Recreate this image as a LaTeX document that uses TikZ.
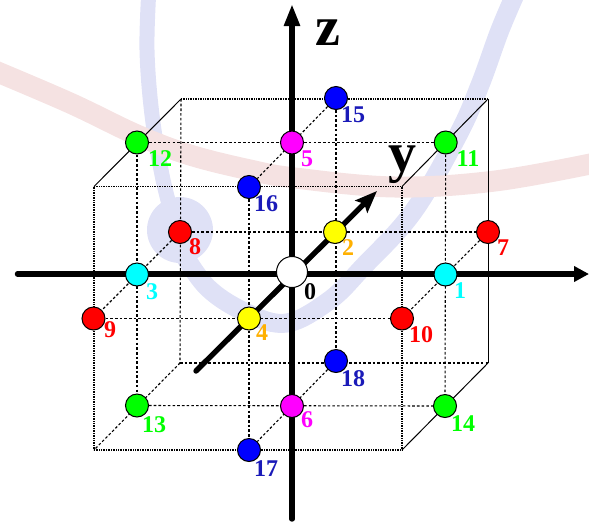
\documentclass[tikz,border=0pt]{standalone}
\usepackage{fontspec}
\setmainfont{Liberation Serif}
\usetikzlibrary{arrows.meta,backgrounds}
\definecolor{band}{HTML}{DFE1F6}
\definecolor{arc}{HTML}{F5E2E2}
\definecolor{site1}{HTML}{00FFFF}
\definecolor{site2}{HTML}{FFFF00}
\definecolor{site3}{HTML}{FF00FF}
\definecolor{site4}{HTML}{FF0000}
\definecolor{site5}{HTML}{00FF00}
\definecolor{site6}{HTML}{0000FF}
\definecolor{numyel}{HTML}{FFB000}
\definecolor{numblue}{HTML}{1A1AB8}
\tikzset{
  site/.style={circle,draw=black,line width=1pt,minimum size=23pt,inner sep=0pt},
  num/.style={font=\fontsize{24}{24}\selectfont\bfseries,inner sep=0pt},
  axlabel/.style={font=\fontsize{56}{56}\selectfont\bfseries,inner sep=0pt},
  axis/.style={line width=5.4pt,line cap=round},
  grid/.style={line width=1.1pt,dash pattern=on 2.6pt off 2.1pt},
  fine/.style={line width=1.2pt,dash pattern=on 1pt off 0.7pt},
  rim/.style={line width=1pt}
}

\begin{document}
\begin{tikzpicture}[x=1pt,y=-1pt]
  \useasboundingbox (0,0) rectangle (589,523);

  % Cube corners
  \coordinate (ftl) at (94,186.5);
  \coordinate (ftr) at (402,186.5);
  \coordinate (fbl) at (94,450);
  \coordinate (fbr) at (402,450);
  \coordinate (btl) at (181,99);
  \coordinate (btr) at (488,99);
  \coordinate (bbl) at (180,363);
  \coordinate (bbr) at (488,363);

  % Axis ends
  \coordinate (xa) at (17.5,274);
  \coordinate (xb) at (589,274);
  \coordinate (za) at (292,519);
  \coordinate (zb) at (292,4);
  \coordinate (ya) at (196,371);
  \coordinate (yb) at (377,191);

  % Lattice sites
  \node[site,fill=white,minimum size=31pt] (n0) at (292,272) {};
  \node[site,fill=site1] (n1) at (445.5,274.5) {};
  \node[site,fill=site2] (n2) at (335,232) {};
  \node[site,fill=site1] (n3) at (137,274.5) {};
  \node[site,fill=site2] (n4) at (249,318.5) {};
  \node[site,fill=site3] (n5) at (292,142.5) {};
  \node[site,fill=site3] (n6) at (292,406) {};
  \node[site,fill=site4] (n7) at (488,232) {};
  \node[site,fill=site4] (n8) at (180,232) {};
  \node[site,fill=site4] (n9) at (93.5,318.5) {};
  \node[site,fill=site4] (n10) at (402,318.5) {};
  \node[site,fill=site5] (n11) at (445.7,142.5) {};
  \node[site,fill=site5] (n12) at (137,142.5) {};
  \node[site,fill=site5] (n13) at (137,405.5) {};
  \node[site,fill=site5] (n14) at (445,406) {};
  \node[site,fill=site6] (n15) at (336,98) {};
  \node[site,fill=site6] (n16) at (249,187) {};
  \node[site,fill=site6] (n17) at (249,450) {};
  \node[site,fill=site6] (n18) at (336,361) {};

  % Site numbers
  \node[num,black] (l0) at (310,292) {0};
  \node[num,site1] (l1) at (460,291) {1};
  \node[num,numyel] (l2) at (348,248) {2};
  \node[num,site1] (l3) at (152,292) {3};
  \node[num,numyel] (l4) at (262,333) {4};
  \node[num,site3] (l5) at (307,159) {5};
  \node[num,site3] (l6) at (307,420) {6};
  \node[num,site4] (l7) at (503,248) {7};
  \node[num,site4] (l8) at (195,247) {8};
  \node[num,site4] (l9) at (110,330) {9};
  \node[num,site4] (l10) at (421,335) {10};
  \node[num,site5] (l11) at (468,159) {11};
  \node[num,site5] (l12) at (160,159) {12};
  \node[num,site5] (l13) at (154,425) {13};
  \node[num,site5] (l14) at (463,424) {14};
  \node[num,numblue] (l15) at (353,115) {15};
  \node[num,numblue] (l16) at (266,204) {16};
  \node[num,numblue] (l17) at (266,469) {17};
  \node[num,numblue] (l18) at (353,379) {18};

  % Axis letters
  \node[axlabel] (lz) at (328,33) {z};
  \node[axlabel] (ly) at (402,165) {y};

  \begin{scope}[on background layer]
    % Pale strokes behind the cube
    \fill[band] (180,230) circle (33);
    \draw[band,line width=15pt] plot[smooth,tension=0.6] coordinates {(149,-12) (147,50) (152,115) (162,175) (172,215)};
    \draw[band,line width=19pt] plot[smooth,tension=0.6] coordinates {(518,-12) (500,30) (480,85) (458,135) (413,212) (363,267) (330,300) (287,323) (247,313) (207,287) (178,245)};
    \draw[arc,line width=21pt] plot[smooth,tension=0.6] coordinates {(-12,68) (70,103) (137,135) (190,155) (250,170) (295,178) (395,187) (495,181) (600,162)};

    % Cube edges
    \draw[fine] (ftl) -- (ftr);
    \draw[fine] (fbl) -- (fbr);
    \draw[fine] (ftl) -- (fbl);
    \draw[fine] (ftr) -- (fbr);
    \draw[fine] (btl) -- (btr);
    \draw[rim] (btr) -- (bbr);
    \draw[rim] (btl) -- (ftl);
    \draw[rim] (btr) -- (ftr);
    \draw[rim] (bbr) -- (fbr);
    \draw[grid] (bbl) -- (fbl);
    \draw[grid] (btl) -- (bbl);
    \draw[grid] (bbl) -- (bbr);

    % Inner lines
    \draw[grid] (n12) -- (n11);
    \draw[grid] (n13) -- (n14);
    \draw[grid] (n8) -- (n7);
    \draw[grid] (n9) -- (n10);
    \draw[grid] (n15) -- (n18);
    \draw[grid] (n16) -- (n17);
    \draw[grid] (n12) -- (n13);
    \draw[grid] (n11) -- (n14);
    \draw[grid] (n15) -- (n16);
    \draw[grid] (n18) -- (n17);
    \draw[grid] (n8) -- (n9);
    \draw[grid] (n7) -- (n10);

    % Axes
    \draw[axis,-{Triangle[length=15pt,width=15pt]}] (xa) -- (xb);
    \draw[axis,-{Triangle[length=22pt,width=15pt]}] (za) -- (zb);
    \draw[axis,-{Stealth[length=22pt,width=17pt,inset=4pt]}] (ya) -- (yb);
  \end{scope}
\end{tikzpicture}
\end{document}
